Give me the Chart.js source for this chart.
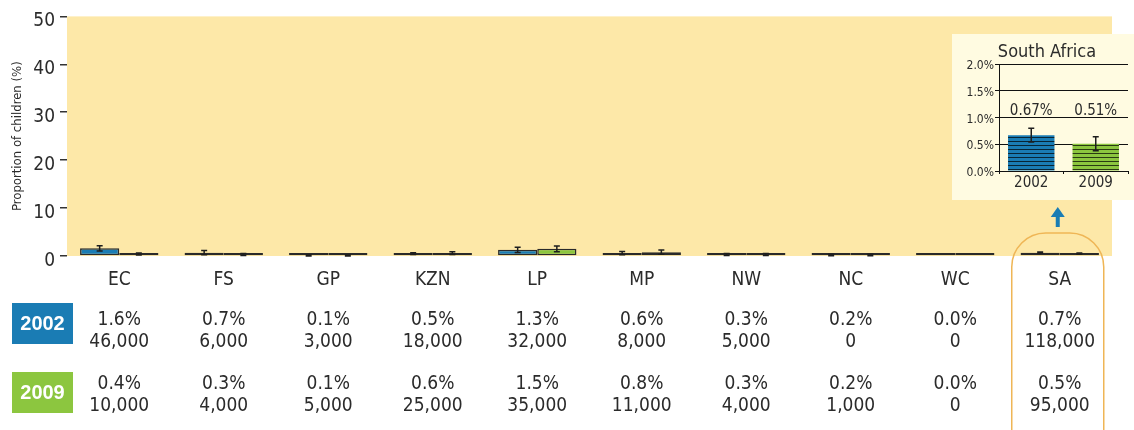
<!DOCTYPE html>
<html>
<head>
<meta charset="utf-8">
<script src="https://cdn.jsdelivr.net/npm/chart.js@4/dist/chart.umd.min.js"></script>
<style>
  html, body { margin: 0; padding: 0; background: #fff; }
  #wrap { position: relative; width: 1134px; height: 430px; overflow: hidden; }
  #main { position: absolute; left: 0; top: 0; }
  #inset { position: absolute; left: 952px; top: 34px; }
</style>
</head>
<body>
<div id="wrap">
  <canvas id="main" width="1134" height="430"></canvas>
  <canvas id="inset" width="182" height="166"></canvas>
</div>
<script>
/* Orphans by province, 2002 vs 2009 — bars with error bars, table below, SA inset */
'use strict';

var categories = ['EC', 'FS', 'GP', 'KZN', 'LP', 'MP', 'NW', 'NC', 'WC', 'SA'];
var years = ['2002', '2009'];

var pct2002 = [1.6, 0.7, 0.1, 0.5, 1.3, 0.6, 0.3, 0.2, 0.0, 0.7];
var pct2009 = [0.4, 0.3, 0.1, 0.6, 1.5, 0.8, 0.3, 0.2, 0.0, 0.5];
var err2002 = [0.55, 0.45, 0.1, 0.2, 0.55, 0.35, 0.2, 0.15, 0.0, 0.13];
var err2009 = [0.2, 0.2, 0.1, 0.3, 0.6, 0.45, 0.2, 0.15, 0.0, 0.13];

var num2002 = ['46,000', '6,000', '3,000', '18,000', '32,000', '8,000', '5,000', '0', '0', '118,000'];
var num2009 = ['10,000', '4,000', '5,000', '25,000', '35,000', '11,000', '4,000', '1,000', '0', '95,000'];

var yTicks = [0, 10, 20, 30, 40, 50];

// inset: South Africa
var insetValues = [0.67, 0.51];
var insetErrors = [0.13, 0.13];
var insetTicks = [0, 0.5, 1.0, 1.5, 2.0];

var BLUE = '#1a7cb4';
var GREEN = '#8cc63f';
var YELLOW = '#fde8a8';
var CREAM = '#fffbe1';
var TEXT = '#2b2b2b';
var ORANGE = '#efb656';
var COND = "'DejaVu Sans Condensed', 'DejaVu Sans', sans-serif";

function drawErrorBars(chart, capHalf) {
  var ctx = chart.ctx;
  var y = chart.scales.y;
  ctx.save();
  ctx.strokeStyle = '#1e1e1e';
  ctx.lineWidth = 1.5;
  chart.data.datasets.forEach(function (ds, i) {
    var meta = chart.getDatasetMeta(i);
    meta.data.forEach(function (bar, j) {
      var e = ds.errors ? ds.errors[j] : 0;
      if (!e) return;
      var v = ds.data[j];
      var top = y.getPixelForValue(v + e);
      var bot = y.getPixelForValue(Math.max(0, v - e));
      ctx.beginPath();
      ctx.moveTo(bar.x, top); ctx.lineTo(bar.x, bot);
      ctx.moveTo(bar.x - capHalf, top); ctx.lineTo(bar.x + capHalf, top);
      ctx.moveTo(bar.x - capHalf, bot); ctx.lineTo(bar.x + capHalf, bot);
      ctx.stroke();
    });
  });
  ctx.restore();
}

var areaBg = {
  id: 'areaBg',
  beforeDraw: function (chart, args, opts) {
    var a = chart.chartArea;
    chart.ctx.save();
    chart.ctx.fillStyle = opts.color;
    chart.ctx.fillRect(a.left, a.top, a.right - a.left, a.bottom - a.top);
    chart.ctx.restore();
  }
};

var mainExtras = {
  id: 'mainExtras',
  afterDatasetsDraw: function (chart) {
    drawErrorBars(chart, 3);
  },
  afterDraw: function (chart) {
    var ctx = chart.ctx;
    var x = chart.scales.x;
    ctx.save();

    // row labels + table under the axis
    var rows = [
      { label: years[0], color: BLUE, top: 303, pct: pct2002, num: num2002, base: 325 },
      { label: years[1], color: GREEN, top: 372, pct: pct2009, num: num2009, base: 389 }
    ];
    rows.forEach(function (r) {
      ctx.fillStyle = r.color;
      ctx.fillRect(12, r.top, 61, 41);
      ctx.fillStyle = '#fff';
      ctx.font = 'bold 20px "Liberation Sans", Arial, sans-serif';
      ctx.textAlign = 'center';
      ctx.textBaseline = 'middle';
      ctx.fillText(r.label, 42.5, r.top + 21);

      ctx.fillStyle = TEXT;
      ctx.font = '19px ' + COND;
      ctx.textBaseline = 'alphabetic';
      categories.forEach(function (c, i) {
        var px = x.getPixelForValue(i);
        ctx.fillText(r.pct[i].toFixed(1) + '%', px, r.base);
        ctx.fillText(r.num[i], px, r.base + 22);
      });
    });

    // SA highlight outline + arrow to inset
    var sx = x.getPixelForValue(categories.length - 1) - 2;
    ctx.strokeStyle = ORANGE;
    ctx.lineWidth = 1.5;
    ctx.beginPath();
    ctx.roundRect(sx - 46, 233, 92, 240, 34);
    ctx.stroke();

    ctx.fillStyle = BLUE;
    ctx.fillRect(sx - 2, 215, 4, 12);
    ctx.beginPath();
    ctx.moveTo(sx, 207);
    ctx.lineTo(sx + 7, 217);
    ctx.lineTo(sx - 7, 217);
    ctx.closePath();
    ctx.fill();
    ctx.restore();
  }
};

new Chart(document.getElementById('main'), {
  type: 'bar',
  data: {
    labels: categories,
    datasets: [
      { label: years[0], data: pct2002, errors: err2002, backgroundColor: BLUE },
      { label: years[1], data: pct2009, errors: err2009, backgroundColor: GREEN }
    ]
  },
  options: {
    responsive: false,
    animation: false,
    layout: { padding: { top: 15, right: 22, bottom: 0, left: 0 } },
    datasets: {
      bar: {
        categoryPercentage: 0.75,
        barPercentage: 1.0,
        borderColor: '#2a2a2a',
        borderWidth: 1.5,
        borderSkipped: false,
        minBarLength: 3
      }
    },
    plugins: {
      legend: { display: false },
      tooltip: { enabled: false },
      areaBg: { color: YELLOW }
    },
    scales: {
      x: {
        grid: { display: false, drawTicks: false },
        border: { display: false },
        ticks: { color: TEXT, font: { family: COND, size: 19 }, padding: 13 },
        afterFit: function (s) { s.height = 174; }
      },
      y: {
        min: 0,
        max: 50,
        afterBuildTicks: function (s) { s.ticks = yTicks.map(function (v) { return { value: v }; }); },
        ticks: { color: TEXT, font: { family: COND, size: 19 }, padding: 5, labelOffset: 5 },
        grid: { drawOnChartArea: false, drawTicks: true, tickLength: 7, color: '#333', lineWidth: 1.5 },
        border: { display: false },
        title: {
          display: true,
          text: 'Proportion of children (%)',
          color: TEXT,
          font: { family: COND, size: 13 },
          padding: { top: 10, bottom: 0 }
        },
        afterFit: function (s) { s.width = 67; }
      }
    }
  },
  plugins: [areaBg, mainExtras]
});

// ---- inset ----
function stripes(color) {
  var c = document.createElement('canvas');
  c.width = 8; c.height = 4;
  var g = c.getContext('2d');
  g.fillStyle = color;
  g.fillRect(0, 0, 8, 4);
  g.fillStyle = 'rgba(0,0,0,0.7)';
  g.fillRect(0, 3, 8, 1);
  return g.createPattern(c, 'repeat');
}

var insetExtras = {
  id: 'insetExtras',
  beforeDraw: function (chart) {
    var ctx = chart.ctx;
    ctx.save();
    ctx.fillStyle = CREAM;
    ctx.fillRect(0, 0, chart.width, chart.height);
    ctx.fillStyle = TEXT;
    ctx.font = '18px ' + COND;
    ctx.textAlign = 'center';
    ctx.textBaseline = 'alphabetic';
    ctx.fillText('South Africa', 95, 23);
    ctx.restore();
  },
  afterDatasetsDraw: function (chart) {
    drawErrorBars(chart, 3);
    var ctx = chart.ctx;
    var y = chart.scales.y;
    var meta = chart.getDatasetMeta(0);
    ctx.save();
    ctx.fillStyle = TEXT;
    ctx.font = '15px ' + COND;
    ctx.textAlign = 'center';
    ctx.textBaseline = 'bottom';
    meta.data.forEach(function (bar, j) {
      ctx.fillText(insetValues[j].toFixed(2) + '%', bar.x, y.getPixelForValue(1.0) + 1);
    });
    ctx.restore();
  }
};

new Chart(document.getElementById('inset'), {
  type: 'bar',
  data: {
    labels: years,
    datasets: [{
      data: insetValues,
      errors: insetErrors,
      backgroundColor: [stripes(BLUE), stripes(GREEN)],
      borderWidth: 0,
      categoryPercentage: 0.72,
      barPercentage: 1.0
    }]
  },
  options: {
    responsive: false,
    animation: false,
    layout: { padding: { top: 30, right: 6, bottom: 0, left: 0 } },
    plugins: { legend: { display: false }, tooltip: { enabled: false } },
    scales: {
      x: {
        grid: { display: true, drawOnChartArea: false, tickLength: 3, color: '#111' },
        border: { display: true, color: '#111', width: 1 },
        ticks: { color: TEXT, font: { family: COND, size: 15 }, padding: 0 },
        afterFit: function (s) { s.height = 29; }
      },
      y: {
        min: 0,
        max: 2,
        afterBuildTicks: function (s) { s.ticks = insetTicks.map(function (v) { return { value: v }; }); },
        ticks: {
          color: TEXT,
          font: { family: COND, size: 12 },
          padding: 1,
          labelOffset: 2,
          callback: function (v) { return Number(v).toFixed(1) + '%'; }
        },
        grid: { color: '#111', lineWidth: 1, tickLength: 4 },
        border: { display: true, color: '#111', width: 1 },
        afterFit: function (s) { s.width = 47; }
      }
    }
  },
  plugins: [insetExtras]
});
</script>
</body>
</html>
